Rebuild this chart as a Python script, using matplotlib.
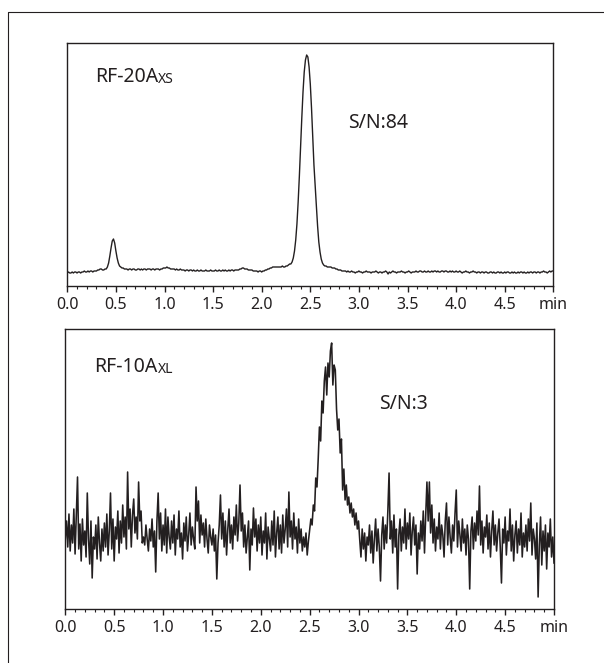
import numpy as np
import matplotlib
matplotlib.use("Agg")
import matplotlib.pyplot as plt
from matplotlib.lines import Line2D

plt.rcParams["font.family"] = ["Noto Sans", "DejaVu Sans"]
INK = "#231f20"

# retention time axis (min), shared by both traces
t_start, t_end = 0.0, 5.0
tick_vals = [0.0, 0.5, 1.0, 1.5, 2.0, 2.5, 3.0, 3.5, 4.0, 4.5, 5.0]
tick_labels = ["0.0", "0.5", "1.0", "1.5", "2.0", "2.5", "3.0", "3.5", "4.0", "4.5", "min"]

# RF-20Axs signal (arbitrary units), sampled every 0.0125 min
rf20_signal = [
    13, 14, 13, 13, 14, 13, 14, 14, 13, 14, 14, 13, 14, 14, 15, 14, 14, 15, 14, 15, 15, 14, 15, 15,
    15, 16, 16, 17, 17, 16, 16, 17,
    17, 19, 23, 30, 38, 45, 47, 43, 35, 28, 23, 20, 19, 18, 18, 17,
    17, 17, 16, 17, 17, 16, 17, 17, 16, 16, 17, 17, 16, 17, 16, 17,
    17, 16, 17, 17, 17, 16, 17, 17, 16, 17, 17, 17, 16, 17, 17, 18,
    18, 18, 19, 18, 18, 17, 17, 17,
    17, 16, 17, 16, 16, 17, 16, 16, 16, 15, 16, 16, 15, 16, 16, 15, 16, 15, 15, 16,
    15, 15, 16, 15, 15, 15, 16, 15, 15, 15, 16, 15, 15, 15, 16, 15, 15, 16, 15, 15,
    16, 15, 16, 15, 15, 16, 15, 16, 16, 15, 16, 16,
    16, 16, 17, 17, 18, 18, 17, 17, 17, 16, 16, 16,
    16, 15, 15, 15, 15, 14, 15, 15, 14, 15, 15, 16, 16, 17, 17, 18,
    18, 19, 19, 19, 19, 19, 19, 19, 19, 20, 19, 19, 20, 20, 21, 22,
    22, 24, 28, 35, 46, 62, 84, 110, 139, 168, 194, 214, 226, 231, 229, 219,
    202, 178, 150, 121, 100, 80, 60, 44, 34, 27, 23, 21, 20, 20, 19, 19, 19,
    19, 18, 18, 18, 17, 17, 16, 16, 16, 15, 15, 15,
    15, 14, 15, 14, 14, 15, 14, 14, 13, 14, 14, 15, 14, 14, 13, 14, 14, 15, 14, 14,
    14, 13, 14, 14, 14, 15, 14, 13, 14, 14, 13, 14, 14, 15, 14, 12, 14, 13, 14, 15,
    14, 14, 13, 14, 14, 14, 15, 14, 14, 13, 14, 14, 15, 14, 13, 14, 14, 14, 15, 14,
    14, 15, 15, 14, 14, 15, 14, 14, 15, 14, 14, 15, 14, 15, 15, 14, 15, 14, 14, 15,
    15, 14, 15, 15, 14, 14, 15, 14, 15, 14, 14, 15, 14, 14, 15, 14, 13, 14, 14, 15,
    14, 14, 13, 14, 14, 15, 14, 14, 13, 14, 14, 13, 14, 14, 13, 14, 14, 13, 13, 14,
    14, 13, 14, 13, 13, 14, 14, 13, 14, 13, 13, 14, 13, 14, 14, 13, 13, 14, 13, 14,
    13, 13, 14, 13, 14, 14, 13, 14, 13, 13, 14, 13, 14, 14, 13, 14, 14, 13, 14, 14,
    13, 14, 14, 15, 14, 14, 13, 14, 15, 14, 15, 15,
]

# RF-10Axl signal (same units scale), sampled every 0.0125 min
rf10_signal = [
    70, 88, 62, 95, 58, 84, 66, 100,
    55, 92, 132, 60, 85, 48, 90, 64,
    78, 52, 116, 70, 45, 88, 31, 72,
    60, 84, 50, 92, 66, 48, 80, 58,
    86, 62, 95, 54, 78, 116, 60, 90,
    48, 82, 70, 98, 56, 88, 66, 104,
    72, 92, 60, 137, 80, 100, 62, 94,
    110, 76, 92, 70, 127, 88, 98, 66,
    72, 64, 84, 70, 58, 80, 68, 90,
    62, 78, 37, 88, 116, 70, 96, 58,
    84, 64, 100, 56, 92, 72, 60, 88,
    66, 94, 54, 80, 70, 98, 62, 76,
    50, 86, 68, 92, 58, 74, 96, 64,
    82, 70, 60, 122, 88, 108, 66, 94,
    74, 86, 62, 90, 70, 56, 84, 72,
    64, 80, 58, 74, 30, 66, 84, 114,
    70, 96, 62, 88, 54, 80, 100, 66,
    84, 60, 92, 74, 104, 68, 86, 124,
    78, 96, 62, 84, 56, 72, 88, 39,
    80, 64, 101, 72, 90, 58, 84, 66,
    92, 54, 78, 66, 96, 50, 82, 70,
    58, 88, 64, 98, 52, 76, 92, 60,
    84, 56, 94, 66, 80, 100, 62, 117,
    72, 88, 60, 96, 70, 82, 56, 90,
    66, 80, 58, 72, 62, 76, 54, 68,
    79, 90, 84, 104, 98, 131, 122, 150,
    182, 168, 208, 196, 228, 242, 214, 246,
    232, 258, 266, 224, 244, 239, 200, 179,
    190, 156, 170, 119, 140, 109, 124, 104,
    112, 96, 106, 92, 100, 84, 96, 80,
    88, 69, 52, 80, 60, 76, 48, 72,
    64, 84, 56, 78, 46, 70, 90, 58,
    80, 62, 28, 74, 92, 60, 84, 66,
    98, 136, 70, 88, 56, 94, 62, 80,
    20, 74, 90, 58, 82, 66, 100, 60,
    86, 70, 96, 54, 78, 92, 64, 84,
    35, 76, 60, 88, 68, 98, 56, 94,
    127, 88, 127, 76, 104, 66, 90, 58,
    82, 70, 96, 60, 84, 74, 52, 88,
    106, 64, 92, 72, 56, 84, 68, 96,
    119, 62, 88, 74, 58, 90, 66, 80,
    54, 84, 70, 20, 78, 92, 60, 86,
    68, 98, 74, 123, 64, 88, 56, 82,
    72, 94, 60, 86, 52, 78, 98, 64,
    84, 58, 76, 90, 62, 26, 80, 66,
    92, 54, 78, 68, 100, 58, 84, 48,
    74, 88, 56, 80, 64, 96, 52, 76,
    62, 84, 58, 90, 68, 106, 54, 80,
    70, 50, 86, 12, 64, 92, 44, 78,
    58, 84, 40, 76, 62, 90, 52, 72,
    46,
]


def style_axis(ax, ymax):
    ax.set_xlim(t_start, t_end)
    ax.set_ylim(0, ymax)
    ax.set_yticks([])
    ax.set_xticks(tick_vals)
    ax.set_xticklabels(tick_labels)
    ax.set_xticks(np.arange(0, 5.01, 0.1), minor=True)
    ax.tick_params(axis="x", which="major", direction="out", length=4.5, width=1.0,
                   color=INK, labelcolor=INK, labelsize=11.5, pad=3.5)
    ax.tick_params(axis="x", which="minor", direction="out", length=2.2, width=0.8, color=INK)
    for s in ax.spines.values():
        s.set_color(INK)
        s.set_linewidth(1.0)


def label(ax, x, y, main, small):
    txt = ax.text(x, y, main, transform=ax.transAxes, fontsize=14, color=INK,
                  ha="left", va="baseline")
    ax.annotate(small, xy=(1, 0), xycoords=txt, fontsize=10, color=INK,
                ha="left", va="bottom")


fig = plt.figure(figsize=(6.04, 6.63), dpi=100)

# outer frame (only left and top edges are visible)
fig.add_artist(Line2D([8 / 604, 8 / 604, 1.0], [0.0, 1 - 12 / 663, 1 - 12 / 663],
                      transform=fig.transFigure, color=INK, lw=0.8))

ax1 = fig.add_axes([67.3 / 604, 377 / 663, 486 / 604, 243 / 663])
ax1.plot(np.linspace(t_start, t_end, len(rf20_signal)), rf20_signal, color=INK, lw=1.0)
style_axis(ax1, 243)
label(ax1, 0.057, 0.838, "RF-20A", "XS")
ax1.text(0.578, 0.649, "S/N:84", transform=ax1.transAxes, fontsize=14, color=INK,
         ha="left", va="baseline")

ax2 = fig.add_axes([65.3 / 604, 54 / 663, 488.7 / 604, 279.7 / 663])
ax2.plot(np.linspace(t_start, t_end, len(rf10_signal)), rf10_signal, color=INK, lw=1.15)
style_axis(ax2, 279.7)
label(ax2, 0.0595, 0.847, "RF-10A", "XL")
ax2.text(0.642, 0.716, "S/N:3", transform=ax2.transAxes, fontsize=14, color=INK,
         ha="left", va="baseline")

fig.savefig("out.png", dpi=100)
